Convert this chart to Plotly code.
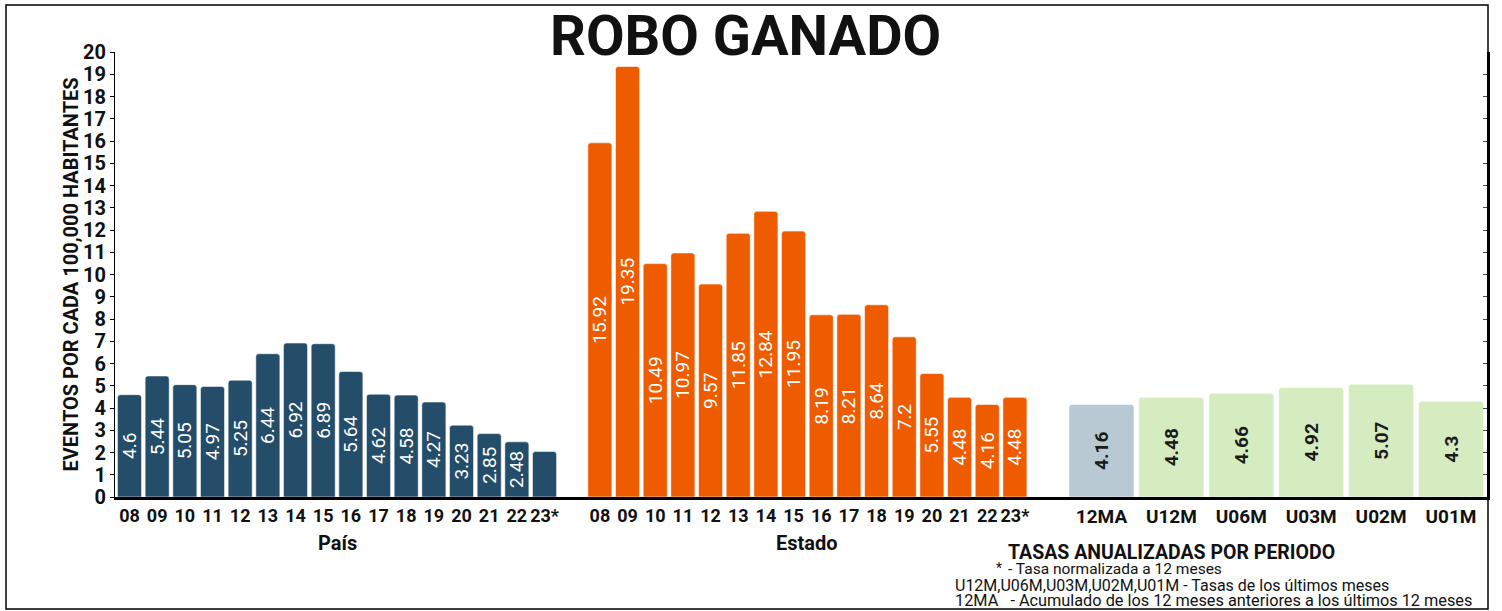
import plotly.graph_objects as go

# Tasas de robo de ganado por cada 100,000 habitantes
anios = ["08", "09", "10", "11", "12", "13", "14", "15", "16", "17", "18", "19", "20", "21", "22", "23*"]
pais = [4.6, 5.44, 5.05, 4.97, 5.25, 6.44, 6.92, 6.89, 5.64, 4.62, 4.58, 4.27, 3.23, 2.85, 2.48, 2.05]
pais_etiquetas = ["4.6", "5.44", "5.05", "4.97", "5.25", "6.44", "6.92", "6.89", "5.64", "4.62",
                  "4.58", "4.27", "3.23", "2.85", "2.48", ""]
estado = [15.92, 19.35, 10.49, 10.97, 9.57, 11.85, 12.84, 11.95, 8.19, 8.21, 8.64, 7.2, 5.55, 4.48, 4.16, 4.48]

periodos = ["12MA", "U12M", "U06M", "U03M", "U02M", "U01M"]
tasas_periodo = [4.16, 4.48, 4.66, 4.92, 5.07, 4.3]

y_ticks = list(range(0, 21))

COLOR_PAIS = "#244d6a"
COLOR_ESTADO = "#ef5c00"
COLOR_12MA = "#b9c9d3"
COLOR_U = "#d5ebc0"
FONT = "Roboto"
INK = "#111111"

# Posiciones: un hueco de una barra entre el bloque País y el bloque Estado
x_pais = list(range(len(anios)))
x_estado = [len(anios) + 1 + i for i in range(len(anios))]

fig = go.Figure()

bar_common = dict(
    textposition="inside",
    insidetextanchor="middle",
    textangle=-90,
    constraintext="none",
    hoverinfo="skip",
    showlegend=False,
)
bar_line = dict(color="rgba(255,255,255,0.55)", width=1)

fig.add_trace(go.Bar(
    x=x_pais, y=pais, text=pais_etiquetas, width=0.87,
    marker=dict(color=COLOR_PAIS, cornerradius=3, line=bar_line),
    insidetextfont=dict(family=FONT, size=19, color="white"),
    **bar_common,
))

fig.add_trace(go.Bar(
    x=x_estado, y=estado, text=[str(v) for v in estado], width=0.87,
    marker=dict(color=COLOR_ESTADO, cornerradius=3, line=bar_line),
    insidetextfont=dict(family=FONT, size=19, color="white"),
    **bar_common,
))

fig.add_trace(go.Bar(
    x=periodos, y=tasas_periodo, text=[str(v) for v in tasas_periodo], width=0.93,
    xaxis="x2", yaxis="y2",
    marker=dict(color=[COLOR_12MA] + [COLOR_U] * (len(periodos) - 1), cornerradius=3, line=bar_line),
    insidetextfont=dict(family=FONT, size=19, color="#1a1a1a", weight="bold"),
    **bar_common,
))

tick_font = dict(family=FONT, size=19, color=INK, weight="bold")

fig.update_layout(
    width=1502, height=611,
    margin=dict(l=115, r=15, t=52, b=114),
    paper_bgcolor="white", plot_bgcolor="white",
    font=dict(family=FONT),
    xaxis=dict(
        domain=[0, 0.6662],
        range=[-0.524, 32.51],
        tickmode="array",
        tickvals=x_pais + x_estado,
        ticktext=anios + anios,
        tickangle=0,
        ticks="",
        showline=True, linecolor="black", linewidth=3,
        showgrid=False, zeroline=False,
        tickfont=dict(family=FONT, size=18, color=INK, weight="bold"),
    ),
    xaxis2=dict(
        domain=[0.6662, 1],
        anchor="y2",
        type="category",
        range=[-1.037, 5.515],
        tickangle=0,
        ticks="",
        showline=True, linecolor="black", linewidth=3,
        showgrid=False, zeroline=False,
        tickfont=tick_font,
    ),
    yaxis=dict(
        range=[0, 20],
        tickmode="array", tickvals=y_ticks,
        ticks="outside", ticklen=4, tickcolor="black",
        showline=True, linecolor="black", linewidth=1,
        showgrid=False, zeroline=False,
        tickfont=dict(family=FONT, size=20, color=INK, weight="bold"),
    ),
    yaxis2=dict(
        anchor="x2", side="right",
        range=[0, 20],
        tickmode="array", tickvals=y_ticks,
        ticks="inside", ticklen=4, tickcolor="#444444",
        showticklabels=False,
        showline=True, linecolor="black", linewidth=3,
        showgrid=False, zeroline=False,
    ),
)


def px_x(p):
    return (p - 115) / 1372


def px_y(p):
    return (497 - p) / 445


def note(text, x, y, size, bold=False, xanchor="center", xref="paper", angle=0):
    font = dict(family=FONT, size=size, color=INK)
    if bold:
        font["weight"] = "bold"
    return dict(text=text, x=x, y=y, xref=xref, yref="paper", xanchor=xanchor, yanchor="middle",
                textangle=angle, showarrow=False, borderpad=0, font=font)


annotations = [
    note("ROBO GANADO", px_x(745), px_y(36), 56, bold=True),
    note("EVENTOS POR CADA 100,000 HABITANTES", px_x(70), 0.5, 20, bold=True, angle=-90),
    note("País", sum(x_pais) / len(x_pais), px_y(543), 20, bold=True, xref="x"),
    note("Estado", sum(x_estado) / len(x_estado), px_y(543), 20, bold=True, xref="x"),
    note("TASAS ANUALIZADAS POR PERIODO", px_x(1171), px_y(552), 19.5, bold=True),
    note("*", px_x(995), px_y(568), 14, xanchor="left"),
    note("- Tasa normalizada a 12 meses", px_x(1007), px_y(569), 15.5, xanchor="left"),
    note("U12M,U06M,U03M,U02M,U01M - Tasas de los últimos meses", px_x(954), px_y(585), 16,
         xanchor="left"),
    note("12MA\u00a0\u00a0 - Acumulado de los 12 meses anteriores a los últimos 12 meses", px_x(954),
         px_y(600), 16.3, xanchor="left"),
]
fig.update_layout(annotations=annotations)

# Marco exterior
fig.add_shape(type="rect", xref="paper", yref="paper",
              x0=px_x(6), x1=px_x(1488), y0=px_y(609), y1=px_y(5),
              line=dict(color="black", width=1.5), fillcolor="rgba(0,0,0,0)", layer="above")

fig.write_html("out.html")
